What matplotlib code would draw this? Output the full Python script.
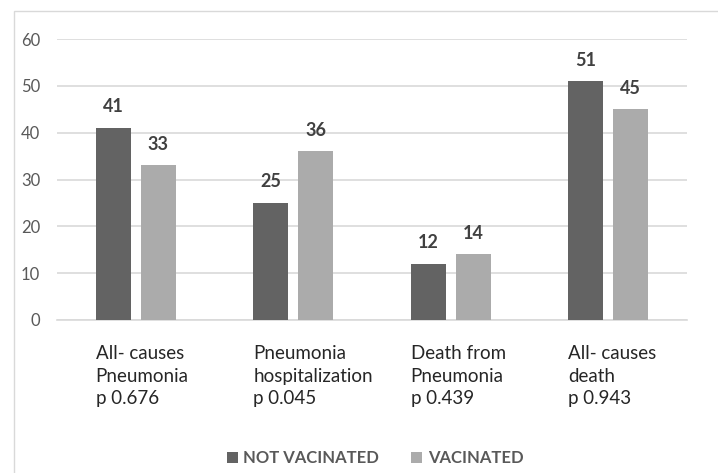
import matplotlib
matplotlib.use("Agg")
import matplotlib.pyplot as plt
import matplotlib.transforms as mtransforms
from matplotlib.patches import Rectangle
import numpy as np

plt.rcParams['font.family'] = ['Lato', 'DejaVu Sans']

# Data
categories = ["All- causes\nPneumonia\np 0.676",
              "Pneumonia\nhospitalization\np 0.045",
              "Death from\nPneumonia\np 0.439",
              "All- causes\ndeath\np 0.943"]
not_vaccinated = [41, 25, 12, 51]
vaccinated = [33, 36, 14, 45]
series_names = ["NOT VACINATED", "VACINATED"]
y_ticks = [0, 10, 20, 30, 40, 50, 60]

dark = "#636363"
light = "#ababab"
grid_col = "#d9d9d9"

fig = plt.figure(figsize=(7.18, 4.73), dpi=100)
ax = fig.add_axes([57 / 718, 153 / 473, 630 / 718, 281 / 473])

x = np.arange(len(categories))
w = 0.222
off = 0.143
b1 = ax.bar(x - off, not_vaccinated, w, color=dark, label=series_names[0], zorder=3)
b2 = ax.bar(x + off, vaccinated, w, color=light, label=series_names[1], zorder=3)

# value labels above bars
for bars, vals in ((b1, not_vaccinated), (b2, vaccinated)):
    for r, v in zip(bars, vals):
        ax.annotate(str(v), (r.get_x() + r.get_width() / 2, v),
                    xytext=(0, 9), textcoords="offset points",
                    ha="center", va="bottom", fontsize=13,
                    fontweight="bold", color="#404040")

ax.set_xlim(-0.5, len(categories) - 0.5)
ax.set_ylim(0, 60)
ax.set_yticks(y_ticks)
ax.tick_params(axis="y", length=0, pad=12, labelsize=12, labelcolor="#595959")
ax.set_xticks([])
ax.yaxis.grid(True, color=grid_col, linewidth=1.2, zorder=0)
for s in ("top", "right", "left"):
    ax.spines[s].set_visible(False)
ax.spines["bottom"].set_color(grid_col)
ax.spines["bottom"].set_linewidth(1.2)

# category labels, left aligned with the first bar of each group
trans = mtransforms.blended_transform_factory(ax.transData, ax.transAxes)
for i, lab in enumerate(categories):
    ax.text(i - off - w / 2, -0.088, lab, transform=trans, ha="left", va="top",
            fontsize=13.5, color="#262626", linespacing=1.42)

leg = fig.legend(handles=[b1, b2], labels=series_names, loc="center",
                 bbox_to_anchor=(375 / 718, 15 / 473), ncol=2, frameon=False,
                 handlelength=0.65, handleheight=0.65, handletextpad=0.35,
                 columnspacing=1.9, prop={"size": 12, "weight": "bold"})
for t in leg.get_texts():
    t.set_color("#595959")

# outer chart border
fig.patches.append(Rectangle((13.5 / 718, -0.1), 1.0, 1.1 - 11 / 473,
                             transform=fig.transFigure, fill=False,
                             edgecolor=grid_col, linewidth=1.0, zorder=0))

fig.savefig("out.png", dpi=100)
